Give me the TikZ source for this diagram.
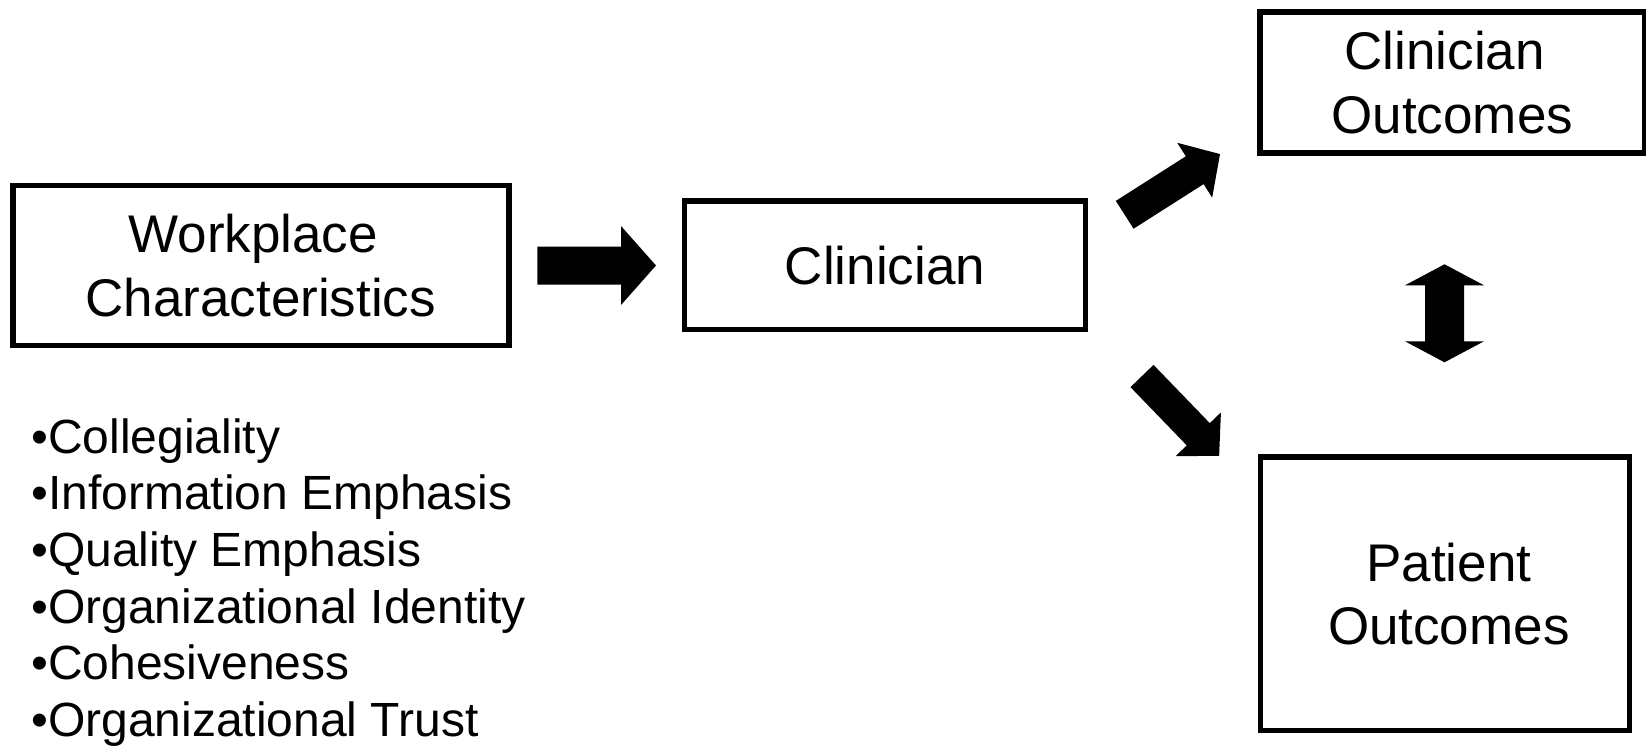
\documentclass[tikz,border=0pt]{standalone}
\usepackage{fontspec}
\setmainfont{Liberation Sans}
\begin{document}
\begin{tikzpicture}[x=1pt, y=-1pt,
  box/.style={draw=black, line width=5.6pt, fill=white, inner sep=0pt,
    align=center, font=\fontsize{53}{63.5}\selectfont},
  item/.style={anchor=base west, inner sep=0pt, font=\fontsize{48}{57}\selectfont},
  % block arrow along +x: length / head length / shaft half-width / head half-width
  pics/blockarrow/.style args={#1/#2/#3/#4}{code={
    \fill[black] (0,-#3) -- ({#1-#2},-#3) -- ({#1-#2},-#4) -- (#1,0)
      -- ({#1-#2},#4) -- ({#1-#2},#3) -- (0,#3) -- cycle;
  }},
  % two-headed block arrow along +x
  pics/dblarrow/.style args={#1/#2/#3/#4}{code={
    \fill[black] (0,0) -- (#2,-#4) -- (#2,-#3) -- ({#1-#2},-#3) -- ({#1-#2},-#4)
      -- (#1,0) -- ({#1-#2},#4) -- ({#1-#2},#3) -- (#2,#3) -- (#2,#4) -- cycle;
  }},
]
\useasboundingbox (0,0) rectangle (1646,746);

% boxes
\node[box, minimum width=495.9pt, minimum height=160pt] (wc) at (260.75,265.5)
  {Workplace\kern15pt\\Characteristics};
\node[box, minimum width=400.8pt, minimum height=128.1pt] (cl) at (884.9,265.25)
  {Clinician};
\node[box, minimum width=384.5pt, minimum height=141.5pt] (co) at (1452.25,82.5)
  {Clinician\kern15pt\\Outcomes};
\node[box, minimum width=369pt, minimum height=273.3pt] (po) at (1444.8,593.85)
  {\kern8pt Patient\\\kern8pt Outcomes};

% block arrows
\pic (wc-cl) at (537.3,265.5) {blockarrow=118.7/35/19/39.5};
\pic[rotate=32.5] (cl-co) at (1124.7,214.8) {blockarrow=113/30/16.5/32.5};
\pic[rotate=-46] (cl-po) at (1142,376) {blockarrow=111/30/16/31.5};
\pic[rotate=-90] (co-po) at (1444.5,264.3) {dblarrow=98/21/19.5/39.5};

% workplace characteristics list
\node[item] (b1) at (31,453) {•Collegiality};
\node[item] (b2) at (31,509.7) {•Information Emphasis};
\node[item] (b3) at (31,566.4) {•Quality Emphasis};
\node[item] (b4) at (31,623.1) {•Organizational Identity};
\node[item] (b5) at (31,679.8) {•Cohesiveness};
\node[item] (b6) at (31,736.5) {•Organizational Trust};
\end{tikzpicture}
\end{document}
